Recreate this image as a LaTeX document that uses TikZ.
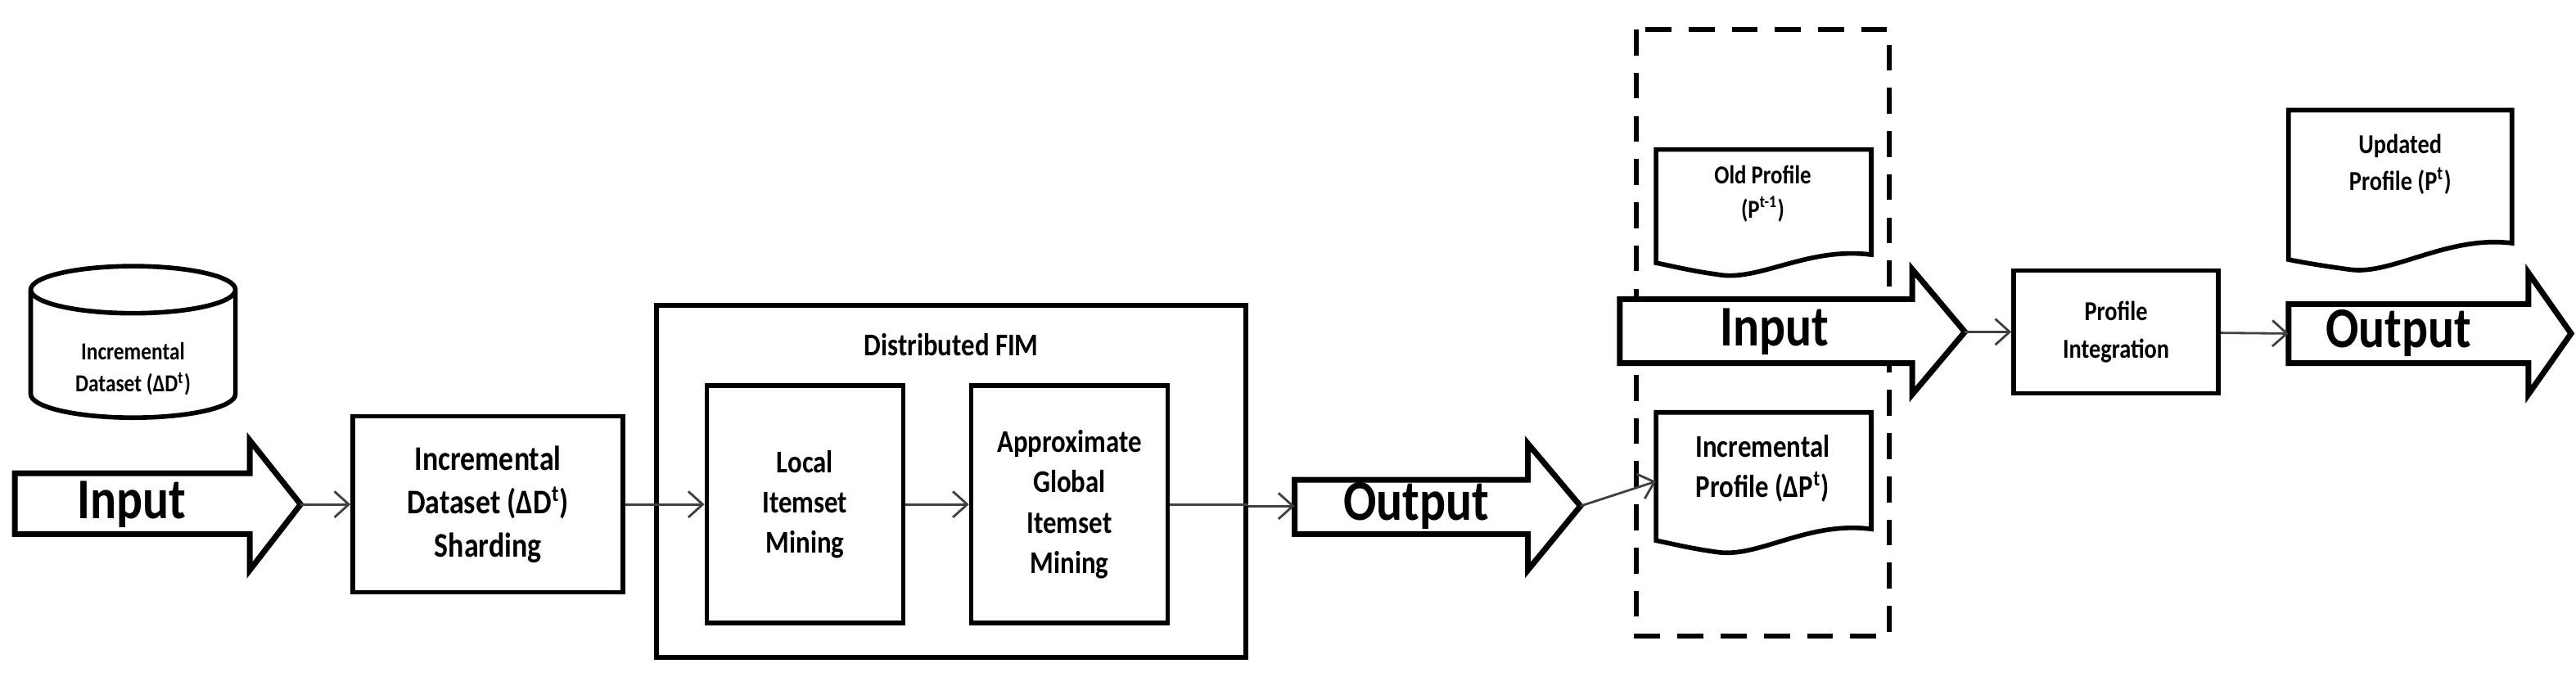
\documentclass[tikz,border=0pt]{standalone}
\usepackage{fontspec}
\setmainfont{Carlito}
\usetikzlibrary{shapes.geometric,arrows.meta}
\newcommand{\sqz}[1]{\scalebox{0.85}[1]{#1}}
\begin{document}
\begin{tikzpicture}[x=0.02007cm,y=-0.02007cm,
  box/.style={draw,line width=1.6pt,align=center,font=\bfseries},
  con/.style={draw=black!75,line width=0.8pt,-{Straight Barb[length=5pt,width=9pt]}},
  big/.style={draw,line width=2pt,fill=white},
  bigtxt/.style={font=\bfseries\fontsize{20}{24}\selectfont},
  doc/.style={draw,line width=1.6pt}]
\useasboundingbox (0,0) rectangle (1568,417.5);
% cylinder
\node[draw,line width=1.6pt,cylinder,shape border rotate=90,aspect=0.35,minimum width=2.5cm,minimum height=1.85cm,align=center,font=\bfseries\fontsize{8.5}{11}\selectfont,text depth=0pt] (cyl) at (81,219) {\\\sqz{Incremental}\\\sqz{Dataset (ΔD\textsuperscript{t})}};
% input arrow 1
\draw[big] (9,288) -- (152,288) -- (152,268) -- (183,307) -- (152,347) -- (152,325) -- (9,325) -- cycle;
\coordinate (in1) at (183,307);
\node[bigtxt] (tin1) at (80,307) {\sqz{Input}};
% sharding
\node[box,minimum width=3.3cm,minimum height=2.15cm,font=\bfseries\fontsize{12}{15}\selectfont] (shard) at (297,307) {\sqz{Incremental}\\\sqz{Dataset (ΔD\textsuperscript{t})}\\\sqz{Sharding}};
% distributed FIM
\node[box,minimum width=7.2cm,minimum height=4.3cm] (fim) at (579,293) {};
\node[font=\bfseries\fontsize{11}{13}\selectfont] (fimt) at (579,210) {\sqz{Distributed FIM}};
\node[box,minimum width=2.4cm,minimum height=2.9cm,font=\bfseries\fontsize{11}{14}\selectfont] (local) at (490,307) {\sqz{Local}\\\sqz{Itemset}\\\sqz{Mining}};
\node[box,minimum width=2.4cm,minimum height=2.9cm,font=\bfseries\fontsize{11}{14}\selectfont] (glob) at (651,307) {\sqz{Approximate}\\\sqz{Global}\\\sqz{Itemset}\\\sqz{Mining}};
% output arrow 1
\draw[big] (788,292) -- (930,292) -- (930,270) -- (962,308) -- (930,347) -- (930,325) -- (788,325) -- cycle;
\coordinate (out1) at (962,308);
\node[bigtxt] (tout1) at (862,308) {\sqz{Output}};
% dashed box
\draw[line width=1.6pt,dash pattern=on 9pt off 6pt] (996,18) rectangle (1150,387);
% input arrow 2
\draw[big] (986,182) -- (1164,182) -- (1164,164) -- (1196,202) -- (1164,240) -- (1164,221) -- (986,221) -- cycle;
\coordinate (in2) at (1196,202);
\node[bigtxt] (tin2) at (1080,202) {\sqz{Input}};
% old profile doc
\draw[doc] (1008,91) -- (1139,91) -- (1139,155) .. controls (1100,150) and (1070,172) .. (1045,167) .. controls (1030,165) and (1018,162) .. (1008,160) -- cycle;
\node[align=center,font=\bfseries\fontsize{9}{12}\selectfont] (old) at (1073,118) {\sqz{Old Profile}\\\sqz{(P\textsuperscript{t-1})}};
% incremental profile doc
\draw[doc] (1008,251) -- (1139,251) -- (1139,322) .. controls (1100,317) and (1070,340) .. (1045,336) .. controls (1030,334) and (1018,331) .. (1008,329) -- cycle;
\node[align=center,font=\bfseries\fontsize{11}{14}\selectfont] (incp) at (1073,285) {\sqz{Incremental}\\\sqz{Profile (ΔP\textsuperscript{t})}};
\coordinate (incin) at (1008,293);
% profile integration
\node[box,minimum width=2.5cm,minimum height=1.5cm,font=\bfseries\fontsize{9.5}{13}\selectfont] (pint) at (1288,202) {\sqz{Profile}\\\sqz{Integration}};
% updated profile doc
\draw[doc] (1393,67) -- (1529,67) -- (1529,148) .. controls (1490,143) and (1455,168) .. (1430,164) .. controls (1415,162) and (1403,160) .. (1393,158) -- cycle;
\node[align=center,font=\bfseries\fontsize{9.5}{13}\selectfont] (upd) at (1461,100) {\sqz{Updated}\\\sqz{Profile (P\textsuperscript{t})}};
% output arrow 2
\draw[big] (1393,185) -- (1539,185) -- (1539,166) -- (1565,203) -- (1539,240) -- (1539,221) -- (1393,221) -- cycle;
\node[bigtxt] (tout2) at (1460,203) {\sqz{Output}};
\coordinate (out2s) at (1393,203);
% connectors
\draw[con] (in1) -- (shard);
\draw[con] (shard) -- (local);
\draw[con] (local) -- (glob);
\draw[con,-] (glob) -- (fim.east|-glob);
\draw[con] (fim.east|-out1) -- (788,308);
\draw[con] (out1) -- (incin);
\draw[con] (in2) -- (pint);
\draw[con] (pint) -- (out2s);
\end{tikzpicture}
\end{document}
